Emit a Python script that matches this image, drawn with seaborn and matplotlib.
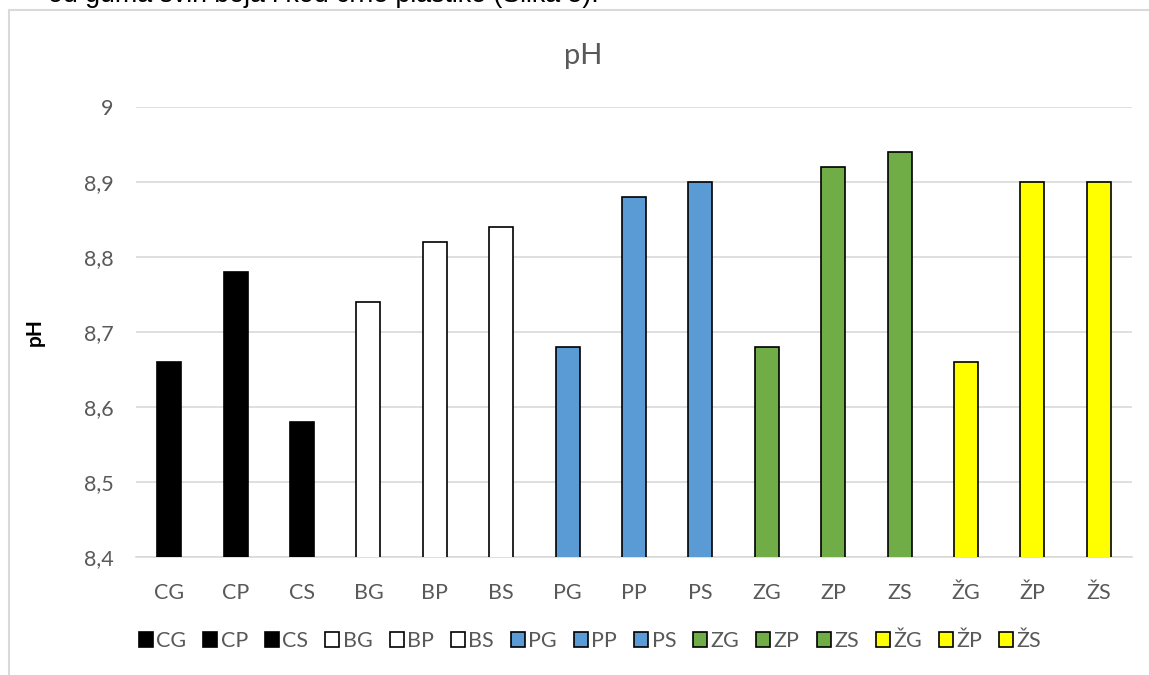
"""
pH po uzorcima - stupčasti graf
"""

import seaborn as sns
import matplotlib.pyplot as plt
from matplotlib.patches import Rectangle
import pandas as pd

#-----------------------------------
#Data:
uzorci = ['CG', 'CP', 'CS', 'BG', 'BP', 'BS', 'PG', 'PP', 'PS',
          'ZG', 'ZP', 'ZS', 'ŽG', 'ŽP', 'ŽS']
ph = [8.66, 8.78, 8.58, 8.74, 8.82, 8.84, 8.68, 8.88, 8.90,
      8.68, 8.92, 8.94, 8.66, 8.90, 8.90]
boje = ['#000000'] * 3 + ['#FFFFFF'] * 3 + ['#5B9BD5'] * 3 + \
       ['#70AD47'] * 3 + ['#FFFF00'] * 3
y_ticks = [8.4, 8.5, 8.6, 8.7, 8.8, 8.9, 9.0]
y_labels = ['8,4', '8,5', '8,6', '8,7', '8,8', '8,9', '9']

df = pd.DataFrame({'uzorak': uzorci, 'pH': ph})

#-----------------------------------
#Plot:
sns.set_style("white")
plt.rcParams['font.family'] = ['Lato', 'DejaVu Sans']

fig = plt.figure(figsize=(11.49, 6.75), dpi=100)
ax = fig.add_axes([136 / 1149, 1 - 557 / 675, 996 / 1149, 450 / 675])

sns.barplot(data=df, x='uzorak', y='pH', hue='uzorak', palette=boje,
            saturation=1, edgecolor='black', linewidth=1.2, width=0.36,
            dodge=False, legend=True, ax=ax, zorder=3)

ax.set_ylim(8.4, 9.0)
ax.set_xlim(-0.5, len(uzorci) - 0.5)
ax.set_yticks(y_ticks)
ax.set_yticklabels(y_labels)
ax.yaxis.grid(True, color='#D9D9D9', lw=1.2, zorder=0)
ax.tick_params(axis='both', length=0, labelsize=15.5, colors='#595959')
ax.tick_params(axis='y', pad=16)
ax.tick_params(axis='x', pad=19)
for s in ['top', 'right', 'left']:
    ax.spines[s].set_visible(False)
ax.spines['bottom'].set_color('#D9D9D9')
ax.spines['bottom'].set_linewidth(1.2)

ax.set_xlabel('')
ax.set_ylabel('pH', fontsize=15, fontweight='bold', color='black')
ax.yaxis.set_label_coords(-(136 - 45) / 996, 0.5)

fig.text(583 / 1149, 1 - 56 / 675, 'pH', ha='center', va='center',
         fontsize=21, color='#595959')

# legenda
sns.move_legend(ax, 'center', bbox_to_anchor=(590 / 1149, 1 - 641 / 675),
                bbox_transform=fig.transFigure, ncol=len(uzorci), frameon=False,
                title=None, fontsize=15.5, handlelength=0.65, handleheight=0.65,
                handletextpad=0.15, columnspacing=0.8, labelcolor='#595959')

# okvir grafikona i tekst iznad
fig.patches.append(Rectangle((9 / 1149, -0.1), 1.2, 1.1 - 10 / 675,
                             transform=fig.transFigure, fill=False,
                             edgecolor='#D9D9D9', lw=1.5))
fig.text(48 / 1149, 1 - 2 / 675, 'od guma svih boja i kod crne plastike (Slika 5).',
         fontsize=19.3, family='Liberation Sans', va='baseline', color='black')

fig.savefig('out.png', dpi=100)
